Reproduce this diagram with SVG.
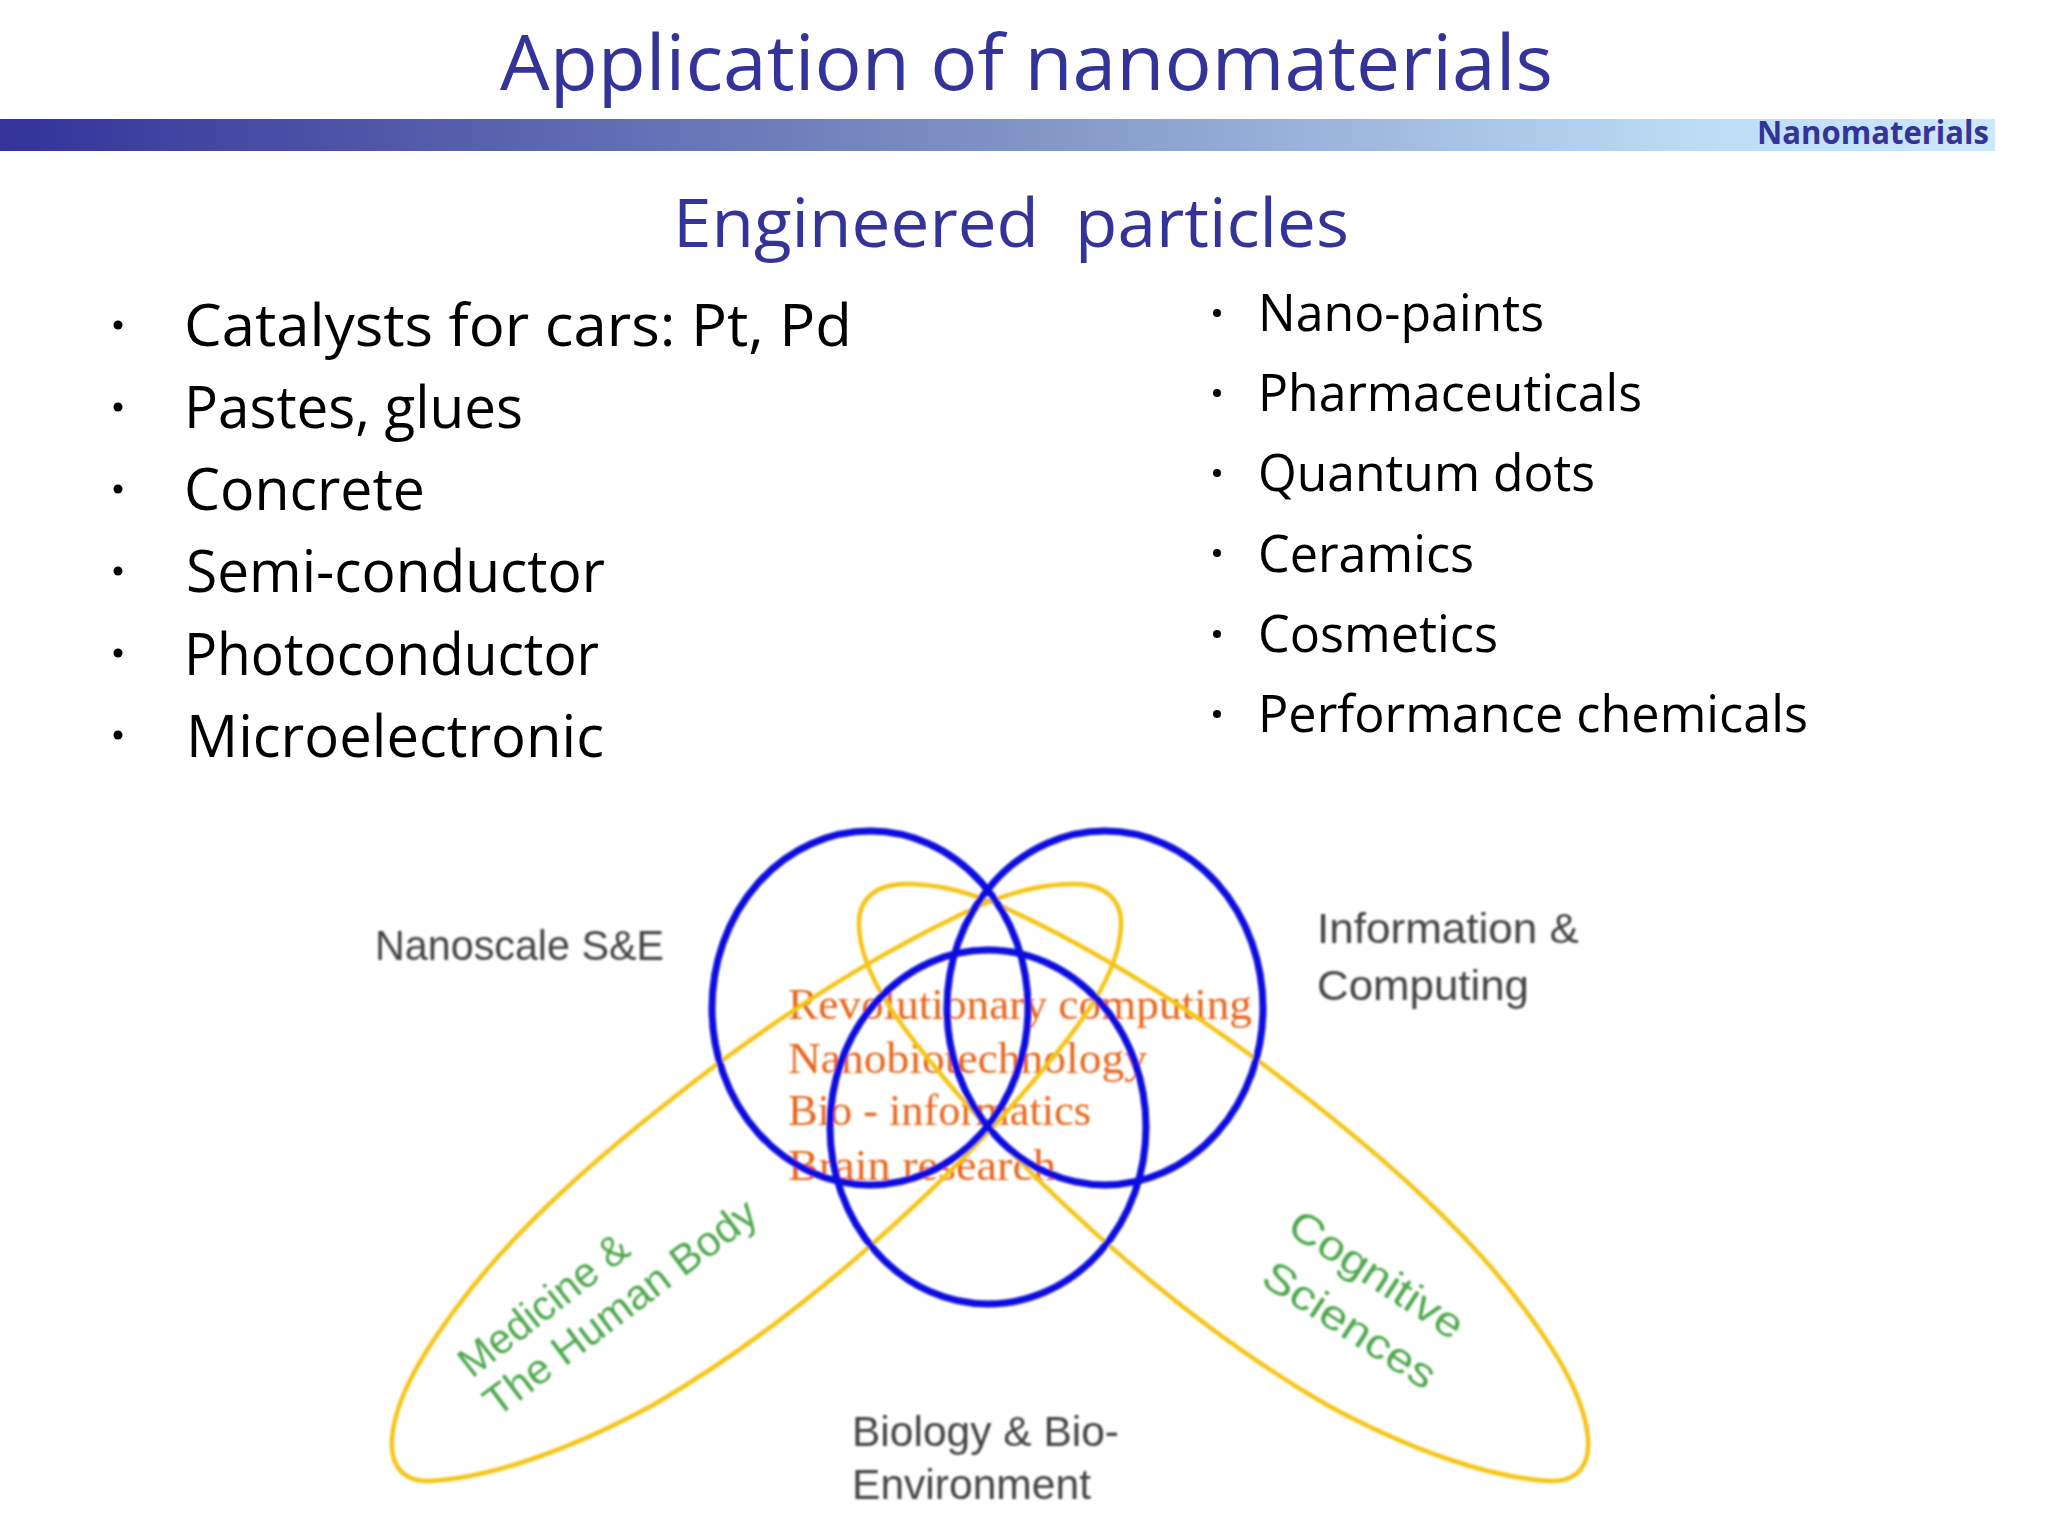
<svg xmlns="http://www.w3.org/2000/svg" width="2048" height="1531" viewBox="0 0 2048 1531">
<style>
.h{font-family:"Open Sans","Noto Sans",sans-serif;fill:#333399}
.l{font-family:"Open Sans","Noto Sans",sans-serif;fill:#000;font-size:58px}
.r{font-family:"Open Sans","Noto Sans",sans-serif;fill:#000;font-size:52px}
.b{fill:#000}
.c{fill:none;stroke:#0a0ae0;stroke-width:7}
.y{fill:none;stroke:#f5c518;stroke-width:4.5}
.g{font-family:"Liberation Sans",sans-serif;font-size:42px;fill:#444}
.o{font-family:"Liberation Serif",serif;font-size:44px;fill:#e8651e}
.n{font-family:"Liberation Sans",sans-serif;font-size:42px;fill:#4fa84f}
</style>
<defs>
<linearGradient id="bar" x1="0" x2="1" y1="0" y2="0"><stop offset="0" stop-color="#333399"/><stop offset="0.5" stop-color="#7f92c4"/><stop offset="0.85" stop-color="#bcdcf5"/><stop offset="1" stop-color="#cce8fc"/></linearGradient>
<filter id="soft" x="-5%" y="-5%" width="110%" height="110%"><feGaussianBlur stdDeviation="1"/></filter>
<path id="lobe" class="y" d="M988 902C1020 890 1045 884 1075 884C1105 884 1122 900 1121 925C1120 970 1090 1020 993 1127C930 1195 800 1320 653 1405C570 1450 490 1478 430 1481C400 1482 390 1462 392 1438C396 1395 425 1350 457 1307C510 1235 590 1160 716 1065C790 1010 880 950 988 902Z"/>
</defs>
<rect width="2048" height="1531" fill="#fff"/>
<g id="header">
<rect x="0" y="119" width="1995" height="32" fill="url(#bar)"/>
<text class="h" x="500" y="90" font-size="76" textLength="1053" lengthAdjust="spacingAndGlyphs">Application of nanomaterials</text>
<text class="h" x="1757" y="144" font-size="32" font-weight="700" textLength="232" lengthAdjust="spacingAndGlyphs">Nanomaterials</text>
<text class="h" x="673" y="247" font-size="68" textLength="676" lengthAdjust="spacingAndGlyphs" xml:space="preserve">Engineered  particles</text>
</g>
<g id="list-left">
<circle class="b" cx="118" cy="325" r="4.5"/><text class="l" x="184" y="346" textLength="668" lengthAdjust="spacingAndGlyphs">Catalysts for cars: Pt, Pd</text>
<circle class="b" cx="118" cy="407" r="4.5"/><text class="l" x="184" y="428" textLength="339" lengthAdjust="spacingAndGlyphs">Pastes, glues</text>
<circle class="b" cx="118" cy="489" r="4.5"/><text class="l" x="184" y="510" textLength="241" lengthAdjust="spacingAndGlyphs">Concrete</text>
<circle class="b" cx="118" cy="571" r="4.5"/><text class="l" x="186" y="592" textLength="419" lengthAdjust="spacingAndGlyphs">Semi-conductor</text>
<circle class="b" cx="118" cy="653" r="4.5"/><text class="l" x="184" y="675" textLength="415" lengthAdjust="spacingAndGlyphs">Photoconductor</text>
<circle class="b" cx="118" cy="735" r="4.5"/><text class="l" x="186" y="757" textLength="418" lengthAdjust="spacingAndGlyphs">Microelectronic</text>
</g>
<g id="list-right">
<circle class="b" cx="1217" cy="313" r="4"/><text class="r" x="1258" y="331" textLength="286" lengthAdjust="spacingAndGlyphs">Nano-paints</text>
<circle class="b" cx="1217" cy="393" r="4"/><text class="r" x="1258" y="411" textLength="384" lengthAdjust="spacingAndGlyphs">Pharmaceuticals</text>
<circle class="b" cx="1217" cy="473" r="4"/><text class="r" x="1258" y="491" textLength="337" lengthAdjust="spacingAndGlyphs">Quantum dots</text>
<circle class="b" cx="1217" cy="553" r="4"/><text class="r" x="1258" y="572" textLength="216" lengthAdjust="spacingAndGlyphs">Ceramics</text>
<circle class="b" cx="1217" cy="634" r="4"/><text class="r" x="1258" y="652" textLength="240" lengthAdjust="spacingAndGlyphs">Cosmetics</text>
<circle class="b" cx="1217" cy="714" r="4"/><text class="r" x="1258" y="732" textLength="550" lengthAdjust="spacingAndGlyphs">Performance chemicals</text>
</g>
<g id="venn" filter="url(#soft)">
<g id="center-text">
<text class="o" x="788" y="1019" textLength="464" lengthAdjust="spacingAndGlyphs">Revolutionary computing</text>
<text class="o" x="788" y="1073" textLength="359" lengthAdjust="spacingAndGlyphs">Nanobiotechnology</text>
<text class="o" x="788" y="1125" textLength="303" lengthAdjust="spacingAndGlyphs">Bio - informatics</text>
<text class="o" x="788" y="1180" textLength="268" lengthAdjust="spacingAndGlyphs">Brain research</text>
</g>
<g id="connectors">
<use id="medicine" href="#lobe"/>
<use id="cognitive" href="#lobe" transform="translate(1980 0) scale(-1 1)"/>
<ellipse id="nanoscale" class="c" cx="870" cy="1008" rx="158" ry="177"/>
<ellipse id="information" class="c" cx="1105" cy="1008" rx="158" ry="177"/>
<ellipse id="biology" class="c" cx="988" cy="1127" rx="158" ry="177"/>
</g>
<g id="labels">
<text class="g" x="375" y="960" textLength="289" lengthAdjust="spacingAndGlyphs">Nanoscale S&amp;E</text>
<text class="g" x="1317" y="943" textLength="262" lengthAdjust="spacingAndGlyphs">Information &amp;</text>
<text class="g" x="1317" y="1000" textLength="212" lengthAdjust="spacingAndGlyphs">Computing</text>
<text class="g" x="852" y="1446" textLength="267" lengthAdjust="spacingAndGlyphs">Biology &amp; Bio-</text>
<text class="g" x="852" y="1499" textLength="239" lengthAdjust="spacingAndGlyphs">Environment</text>
<text class="n" transform="translate(472 1379) rotate(-38)" textLength="204" lengthAdjust="spacingAndGlyphs">Medicine &amp;</text>
<text class="n" transform="translate(497 1418) rotate(-37)" textLength="330" lengthAdjust="spacingAndGlyphs">The Human Body</text>
<text class="n" transform="translate(1285 1232) rotate(33)" textLength="200" lengthAdjust="spacingAndGlyphs">Cognitive</text>
<text class="n" transform="translate(1259 1283) rotate(33)" textLength="198" lengthAdjust="spacingAndGlyphs">Sciences</text>
</g>
</g>
</svg>
